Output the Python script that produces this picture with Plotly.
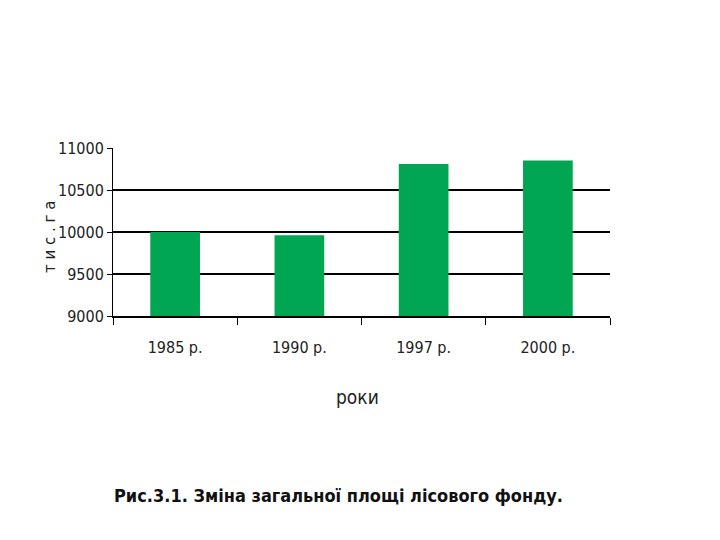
import plotly.graph_objects as go

categories = ["1985 р.", "1990 р.", "1997 р.", "2000 р."]
values = [10000, 9960, 10810, 10850]
y_ticks = [9000, 9500, 10000, 10500, 11000]
y_tick_labels = ["9000", "9500", "10000", "10500", "11000"]
x_title = "роки"
y_title = "т и с . г а"
caption = "Рис.3.1. Зміна загальної площі лісового фонду."

NARROW = "DejaVu Sans Condensed, Liberation Sans Narrow, Roboto Condensed, sans-serif"

L, T, W, H = 105, 140, 497, 168

fig = go.Figure(go.Bar(x=categories, y=values, marker=dict(color="#00A651", line=dict(width=0))))

fig.update_layout(
    width=720, height=540,
    margin=dict(l=L, r=720 - L - W, t=T, b=540 - T - H),
    paper_bgcolor="white", plot_bgcolor="white",
    bargap=0.6,
    showlegend=False,
    xaxis=dict(
        showline=True, linecolor="black", linewidth=2,
        ticks="outside", tickson="boundaries", ticklen=7, tickcolor="black", tickwidth=1,
        tickfont=dict(family=NARROW, size=16, color="#222"),
        ticklabelstandoff=16,
        showgrid=False,
    ),
    yaxis=dict(
        range=[9000, 11000],
        tickvals=y_ticks, ticktext=y_tick_labels,
        showline=True, linecolor="black", linewidth=1,
        ticks="outside", ticklen=5, tickcolor="black",
        tickfont=dict(family=NARROW, size=16, color="#222"),
        showgrid=True, gridcolor="black", gridwidth=2,
        zeroline=False,
    ),
    annotations=[
        dict(text=y_title, xref="paper", yref="paper", x=(50 - 113) / W, y=(316 - 237) / H,
             xanchor="center", yanchor="middle", textangle=-90, showarrow=False,
             font=dict(family="DejaVu Sans", size=15, color="#222")),
        dict(text=x_title, xref="paper", yref="paper", x=(357 - 113) / W,
             y=(316 - 397) / H, xanchor="center", yanchor="middle", showarrow=False,
             font=dict(family=NARROW, size=19, color="#222")),
        dict(text="<b>" + caption + "</b>", xref="paper", yref="paper", x=(338 - 113) / W,
             y=(316 - 495) / H, xanchor="center", yanchor="middle", showarrow=False,
             font=dict(family=NARROW, size=18, color="#111")),
    ],
)

fig.write_html("out.html")
